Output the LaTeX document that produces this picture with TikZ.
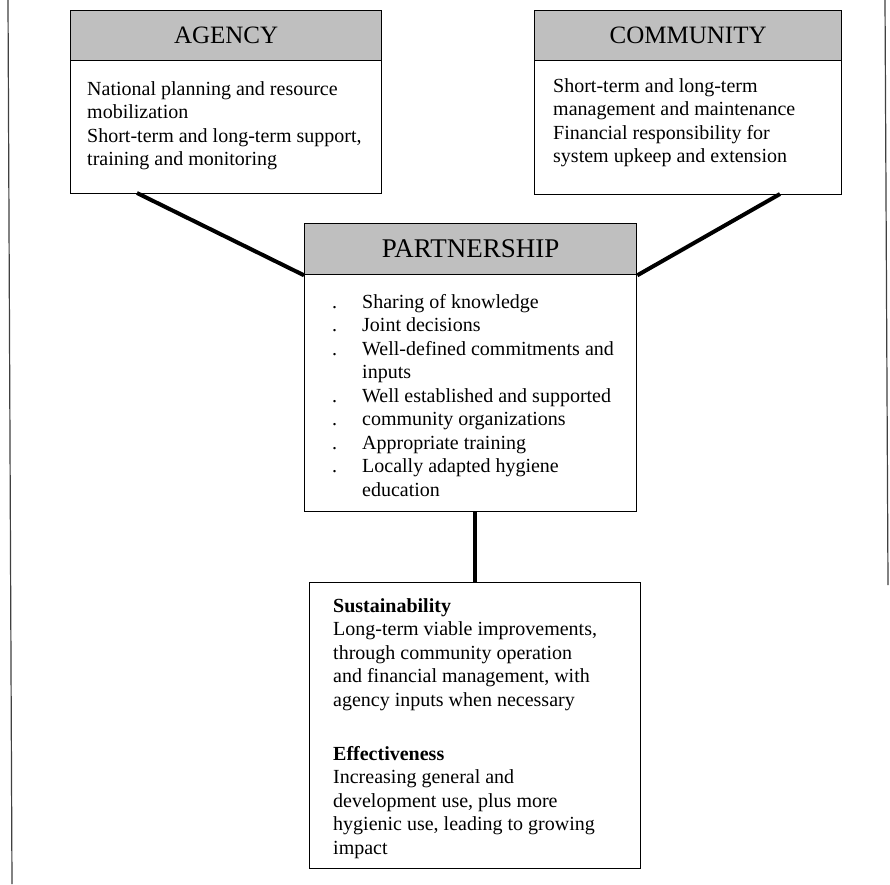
\documentclass[tikz,border=0pt]{standalone}
\usepackage{fontspec}
\setmainfont{Liberation Serif}
\tikzset{
  hdr/.style={draw=black, line width=1.3pt, fill=black!25, inner sep=0pt, anchor=north west,
    font=\fontsize{25}{28}\selectfont},
  boxbody/.style={draw=black, line width=1.3pt, fill=white, inner sep=0pt, anchor=north west},
  txt/.style={inner sep=0pt, anchor=base west, font=\fontsize{20}{23.5}\selectfont},
  conn/.style={draw=black, line width=4pt},
  edge/.style={draw=black!75, line width=1.2pt}
}
\newcommand{\bl}{\makebox[30pt][l]{.}}
\newcommand{\nb}{\hspace*{30pt}}
\begin{document}
\begin{tikzpicture}[x=1pt,y=-1pt]
\useasboundingbox (0,0) rectangle (890,884);
\fill[white] (0,0) rectangle (890,884);
% page edges
\coordinate (e1) at (8,0); \coordinate (e2) at (12,884);
\coordinate (e3) at (885,0); \coordinate (e4) at (888,585);
\draw[edge] (e1) -- (e2);
\draw[edge] (e3) -- (e4);
% Agency
\node[boxbody, minimum width=311pt, minimum height=133pt] (ab) at (70,60) {};
\node[hdr, minimum width=311pt, minimum height=50pt] (ah) at (70,10) {AGENCY};
\node[txt] (at) at (87,95) {\parbox[t]{290pt}{\raggedright
National planning and resource\\
mobilization\\
Short-term and long-term support,\\
training and monitoring}};
% Community
\node[boxbody, minimum width=307pt, minimum height=134pt] (cb) at (534,60) {};
\node[hdr, minimum width=307pt, minimum height=50pt] (ch) at (534,10) {COMMUNITY};
\node[txt] (ct) at (553,92) {\parbox[t]{290pt}{\raggedright
Short-term and long-term\\
management and maintenance\\
Financial responsibility for\\
system upkeep and extension}};
% Partnership
\node[boxbody, minimum width=332pt, minimum height=237pt] (pb) at (304,274) {};
\node[hdr, minimum width=332pt, minimum height=51pt, font=\fontsize{27}{30}\selectfont] (ph) at (304,223) {PARTNERSHIP};
\node[txt] (pt) at (332,308) {\parbox[t]{300pt}{\raggedright
\bl Sharing of knowledge\\
\bl Joint decisions\\
\bl Well-defined commitments and\\
\nb inputs\\
\bl Well established and supported\\
\bl community organizations\\
\bl Appropriate training\\
\bl Locally adapted hygiene\\
\nb education}};
% Outcome box
\node[boxbody, minimum width=331pt, minimum height=286pt] (bb) at (309,582) {};
\node[txt] (bt1) at (333,612) {\parbox[t]{300pt}{\raggedright
\textbf{Sustainability}\\
Long-term viable improvements,\\
through community operation\\
and financial management, with\\
agency inputs when necessary}};
\node[txt] (bt2) at (333,760) {\parbox[t]{300pt}{\raggedright
\textbf{Effectiveness}\\
Increasing general and\\
development use, plus more\\
hygienic use, leading to growing\\
impact}};
% connectors
\coordinate (aL) at (137,193);
\coordinate (cR) at (780,194);
\draw[conn] (aL) -- (ph.south west);
\draw[conn] (cR) -- (ph.south east);
\draw[conn] (bb.north |- pb.south) -- (bb.north);
\end{tikzpicture}
\end{document}
